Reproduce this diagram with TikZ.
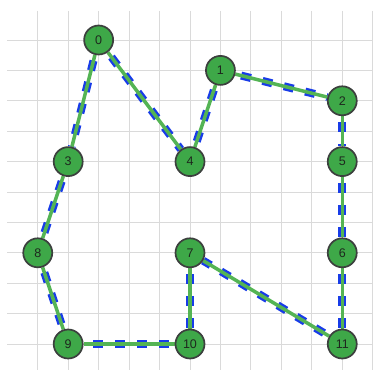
\documentclass[tikz,border=0pt]{standalone}
\usepackage{fontspec}
\setmainfont{Liberation Sans}
\usetikzlibrary{backgrounds}
\definecolor{gridgray}{RGB}{218,218,218}
\definecolor{nodegreen}{RGB}{62,168,72}
\definecolor{nodeborder}{RGB}{60,64,62}
\definecolor{edgegreen}{RGB}{84,180,84}
\definecolor{edgeblue}{RGB}{24,60,232}
\definecolor{labeltext}{RGB}{30,40,30}
\tikzset{
  vtx/.style={circle, draw=nodeborder, line width=1.7pt, fill=nodegreen,
    minimum size=29pt, inner sep=0pt, font=\fontsize{12.5}{12.5}\selectfont, text=labeltext},
  bluedash/.style={draw=edgeblue, line width=8pt, dash pattern=on 10pt off 12pt, dash phase=16pt},
  greenline/.style={draw=edgegreen, line width=3.5pt},
  gridline/.style={draw=gridgray, line width=0.9pt}
}
\begin{document}
\begin{tikzpicture}[x=30.45pt, y=-30.4pt]
\useasboundingbox (-0.2397,-0.3158) rectangle (12.010,11.855);
\node[vtx] (n0) at (3,1) {0};
\node[vtx] (n1) at (7,2) {1};
\node[vtx] (n2) at (11,3) {2};
\node[vtx] (n3) at (2,5) {3};
\node[vtx] (n4) at (6,5) {4};
\node[vtx] (n5) at (11,5) {5};
\node[vtx] (n6) at (11,8) {6};
\node[vtx] (n7) at (6,8) {7};
\node[vtx] (n8) at (1,8) {8};
\node[vtx] (n9) at (2,11) {9};
\node[vtx] (n10) at (6,11) {10};
\node[vtx] (n11) at (11,11) {11};
\begin{scope}[on background layer]
  \fill[white] (-0.2397,-0.3158) rectangle (12.010,11.855);
  \foreach \c in {1,...,12} {\draw[gridline] (\c,0.046) -- (\c,11.855);}
  \foreach \r in {1,...,11} {\draw[gridline] (0,\r) -- (12.010,\r);}
  \foreach \a/\b in {n0/n3,n0/n4,n4/n1,n1/n2,n2/n5,n5/n6,n6/n11,n11/n7,n7/n10,n10/n9,n9/n8,n8/n3} {
    \draw[bluedash] (\a) -- (\b);
    \draw[greenline] (\a) -- (\b);
  }
\end{scope}
\end{tikzpicture}
\end{document}
